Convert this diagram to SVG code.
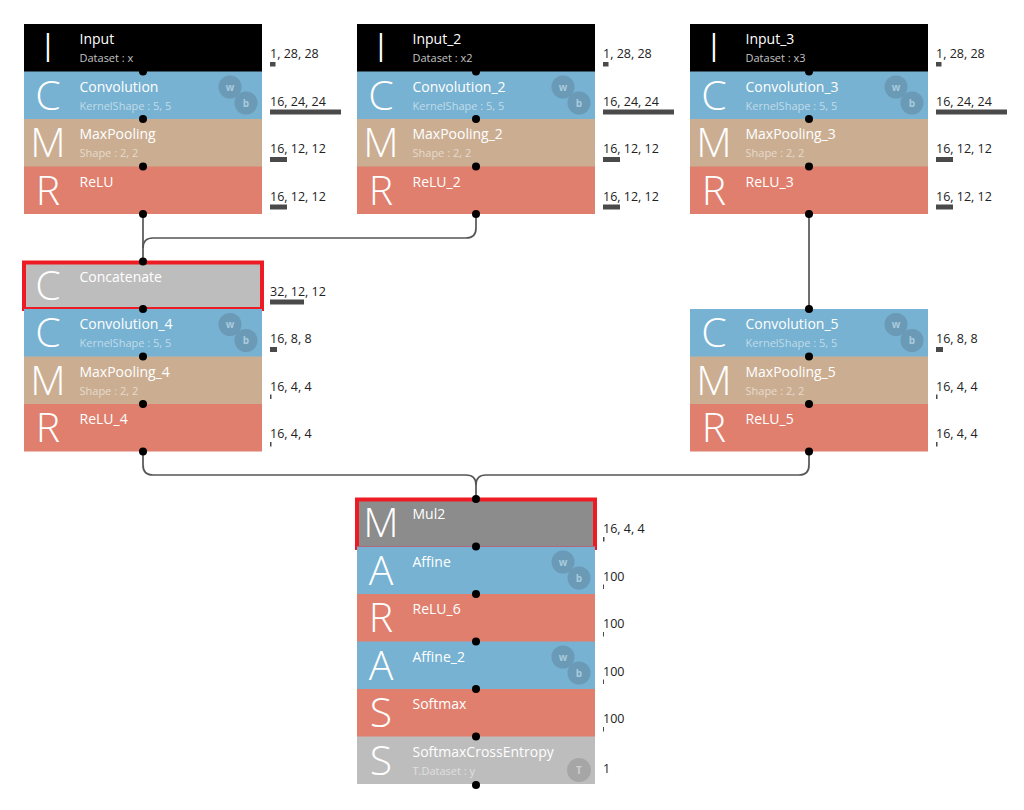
<svg xmlns="http://www.w3.org/2000/svg" width="1024" height="810" viewBox="0 0 1024 810">
<style>
.bgI{fill:#000000}.bgC{fill:#77B2D2}.bgM{fill:#CBAE92}.bgR{fill:#E07F6E}.bgG{fill:#BDBDBD}.bgD{fill:#8C8C8C}
.big{font-family:"Open Sans","DejaVu Sans",sans-serif;font-weight:300;font-size:41px;fill:#fff;text-anchor:middle}
.t{font-family:"Open Sans","DejaVu Sans",sans-serif;font-size:14px;fill:#fff}
.s{font-family:"Open Sans","DejaVu Sans",sans-serif;font-size:11px;fill:#fff;fill-opacity:0.55}
.sI{fill:#c4c4c4;fill-opacity:1}
.l{font-family:"Open Sans","DejaVu Sans",sans-serif;font-size:12.5px;fill:#222}
.bar{fill:#4a4a4a}
.cw{fill:#6A9AB6}.cwt{font-family:"Open Sans","DejaVu Sans",sans-serif;font-size:10px;font-weight:bold;fill:#A9CADD;text-anchor:middle}
.ct{fill:#A6A6A6}.ctt{font-family:"Open Sans","DejaVu Sans",sans-serif;font-size:10px;font-weight:bold;fill:#CFCFCF;text-anchor:middle}
.hl{fill:none;stroke:#ED1C24;stroke-width:4}
.dot{fill:#000}
.edge{fill:none;stroke:#555;stroke-width:1.7}
</style>
<defs>
<g id="wb"><circle class="cw" cx="206" cy="15.5" r="11.5"/><text class="cwt" x="206" y="19">w</text><circle class="cw" cx="222" cy="31.5" r="11.5"/><text class="cwt" x="222" y="35">b</text></g>
</defs>

<g id="connectors">
<path class="edge" d="M143,214 V261.5"/>
<path class="edge" d="M476,214 V228 Q476,238 466,238 H153 Q143,238 143,248"/>
<path class="edge" d="M809,214 V309"/>
<path class="edge" d="M143,451.5 V465 Q143,475 153,475 H466 Q476,475 476,485 V499"/>
<path class="edge" d="M809,451.5 V465 Q809,475 799,475 H486 Q476,475 476,485"/>
</g>

<!-- Column 1 -->
<g id="input" transform="translate(24,24)"><rect class="bgI" width="238" height="48"/><text class="big" x="24" y="38">I</text><text class="t" x="55.5" y="20">Input</text><text class="s sI" x="55.5" y="38">Dataset : x</text><text class="l" x="246" y="34">1, 28, 28</text><rect class="bar" x="246" y="38" width="5.5" height="4.5"/></g>
<g id="convolution" transform="translate(24,71.5)"><rect class="bgC" width="238" height="48"/><text class="big" x="24" y="38">C</text><text class="t" x="55.5" y="20">Convolution</text><text class="s" x="55.5" y="38">KernelShape : 5, 5</text><use href="#wb"/><text class="l" x="246" y="34">16, 24, 24</text><rect class="bar" x="246" y="38" width="71" height="5"/></g>
<g id="maxpooling" transform="translate(24,119)"><rect class="bgM" width="238" height="48"/><text class="big" x="24" y="38">M</text><text class="t" x="55.5" y="20">MaxPooling</text><text class="s" x="55.5" y="38">Shape : 2, 2</text><text class="l" x="246" y="34">16, 12, 12</text><rect class="bar" x="246" y="38" width="17" height="5"/></g>
<g id="relu" transform="translate(24,166.5)"><rect class="bgR" width="238" height="47.5"/><text class="big" x="24" y="38">R</text><text class="t" x="55.5" y="20">ReLU</text><text class="l" x="246" y="34">16, 12, 12</text><rect class="bar" x="246" y="38" width="17" height="5"/></g>

<g id="concatenate" transform="translate(24,261.5)"><rect class="bgG" width="238" height="48"/><text class="big" x="24" y="38">C</text><text class="t" x="55.5" y="20">Concatenate</text><text class="l" x="246" y="34">32, 12, 12</text><rect class="bar" x="246" y="38" width="34" height="5"/><rect class="hl" x="0" y="1" width="238" height="46.5"/></g>
<g id="convolution_4" transform="translate(24,309)"><rect class="bgC" width="238" height="48"/><text class="big" x="24" y="38">C</text><text class="t" x="55.5" y="20">Convolution_4</text><text class="s" x="55.5" y="38">KernelShape : 5, 5</text><use href="#wb"/><text class="l" x="246" y="34">16, 8, 8</text><rect class="bar" x="246" y="38" width="7" height="5"/></g>
<g id="maxpooling_4" transform="translate(24,356.5)"><rect class="bgM" width="238" height="48"/><text class="big" x="24" y="38">M</text><text class="t" x="55.5" y="20">MaxPooling_4</text><text class="s" x="55.5" y="38">Shape : 2, 2</text><text class="l" x="246" y="34">16, 4, 4</text><rect class="bar" x="246" y="38" width="1.5" height="4.5"/></g>
<g id="relu_4" transform="translate(24,404)"><rect class="bgR" width="238" height="47.5"/><text class="big" x="24" y="38">R</text><text class="t" x="55.5" y="20">ReLU_4</text><text class="l" x="246" y="34">16, 4, 4</text><rect class="bar" x="246" y="38" width="1.5" height="4.5"/></g>

<!-- Column 2 -->
<g id="input_2" transform="translate(357,24)"><rect class="bgI" width="238" height="48"/><text class="big" x="24" y="38">I</text><text class="t" x="55.5" y="20">Input_2</text><text class="s sI" x="55.5" y="38">Dataset : x2</text><text class="l" x="246" y="34">1, 28, 28</text><rect class="bar" x="246" y="38" width="5.5" height="4.5"/></g>
<g id="convolution_2" transform="translate(357,71.5)"><rect class="bgC" width="238" height="48"/><text class="big" x="24" y="38">C</text><text class="t" x="55.5" y="20">Convolution_2</text><text class="s" x="55.5" y="38">KernelShape : 5, 5</text><use href="#wb"/><text class="l" x="246" y="34">16, 24, 24</text><rect class="bar" x="246" y="38" width="71" height="5"/></g>
<g id="maxpooling_2" transform="translate(357,119)"><rect class="bgM" width="238" height="48"/><text class="big" x="24" y="38">M</text><text class="t" x="55.5" y="20">MaxPooling_2</text><text class="s" x="55.5" y="38">Shape : 2, 2</text><text class="l" x="246" y="34">16, 12, 12</text><rect class="bar" x="246" y="38" width="17" height="5"/></g>
<g id="relu_2" transform="translate(357,166.5)"><rect class="bgR" width="238" height="47.5"/><text class="big" x="24" y="38">R</text><text class="t" x="55.5" y="20">ReLU_2</text><text class="l" x="246" y="34">16, 12, 12</text><rect class="bar" x="246" y="38" width="17" height="5"/></g>

<g id="mul2" transform="translate(357,499)"><rect class="bgD" width="238" height="48"/><text class="big" x="24" y="38">M</text><text class="t" x="55.5" y="20">Mul2</text><text class="l" x="246" y="34">16, 4, 4</text><rect class="bar" x="246" y="38" width="1.5" height="4.5"/><rect class="hl" x="0" y="0.5" width="238" height="48.5"/></g>
<g id="affine" transform="translate(357,546.5)"><rect class="bgC" width="238" height="48"/><text class="big" x="24" y="38">A</text><text class="t" x="55.5" y="20">Affine</text><use href="#wb"/><text class="l" x="246" y="34">100</text><rect class="bar" x="246" y="38" width="1" height="4.5"/></g>
<g id="relu_6" transform="translate(357,594)"><rect class="bgR" width="238" height="48"/><text class="big" x="24" y="38">R</text><text class="t" x="55.5" y="20">ReLU_6</text><text class="l" x="246" y="34">100</text><rect class="bar" x="246" y="38" width="1" height="4.5"/></g>
<g id="affine_2" transform="translate(357,641.5)"><rect class="bgC" width="238" height="48"/><text class="big" x="24" y="38">A</text><text class="t" x="55.5" y="20">Affine_2</text><use href="#wb"/><text class="l" x="246" y="34">100</text><rect class="bar" x="246" y="38" width="1" height="4.5"/></g>
<g id="softmax" transform="translate(357,689)"><rect class="bgR" width="238" height="48"/><text class="big" x="24" y="38">S</text><text class="t" x="55.5" y="20">Softmax</text><text class="l" x="246" y="34">100</text><rect class="bar" x="246" y="38" width="1" height="4.5"/></g>
<g id="softmaxcrossentropy" transform="translate(357,736.5)"><rect class="bgG" width="238" height="47.5"/><text class="big" x="24" y="38">S</text><text class="t" x="55.5" y="20">SoftmaxCrossEntropy</text><text class="s" x="55.5" y="38">T.Dataset : y</text><circle class="ct" cx="222" cy="33.5" r="12"/><text class="ctt" x="222" y="37">T</text><text class="l" x="246" y="36">1</text></g>

<!-- Column 3 -->
<g id="input_3" transform="translate(690,24)"><rect class="bgI" width="238" height="48"/><text class="big" x="24" y="38">I</text><text class="t" x="55.5" y="20">Input_3</text><text class="s sI" x="55.5" y="38">Dataset : x3</text><text class="l" x="246" y="34">1, 28, 28</text><rect class="bar" x="246" y="38" width="5.5" height="4.5"/></g>
<g id="convolution_3" transform="translate(690,71.5)"><rect class="bgC" width="238" height="48"/><text class="big" x="24" y="38">C</text><text class="t" x="55.5" y="20">Convolution_3</text><text class="s" x="55.5" y="38">KernelShape : 5, 5</text><use href="#wb"/><text class="l" x="246" y="34">16, 24, 24</text><rect class="bar" x="246" y="38" width="71" height="5"/></g>
<g id="maxpooling_3" transform="translate(690,119)"><rect class="bgM" width="238" height="48"/><text class="big" x="24" y="38">M</text><text class="t" x="55.5" y="20">MaxPooling_3</text><text class="s" x="55.5" y="38">Shape : 2, 2</text><text class="l" x="246" y="34">16, 12, 12</text><rect class="bar" x="246" y="38" width="17" height="5"/></g>
<g id="relu_3" transform="translate(690,166.5)"><rect class="bgR" width="238" height="47.5"/><text class="big" x="24" y="38">R</text><text class="t" x="55.5" y="20">ReLU_3</text><text class="l" x="246" y="34">16, 12, 12</text><rect class="bar" x="246" y="38" width="17" height="5"/></g>

<g id="convolution_5" transform="translate(690,309)"><rect class="bgC" width="238" height="48"/><text class="big" x="24" y="38">C</text><text class="t" x="55.5" y="20">Convolution_5</text><text class="s" x="55.5" y="38">KernelShape : 5, 5</text><use href="#wb"/><text class="l" x="246" y="34">16, 8, 8</text><rect class="bar" x="246" y="38" width="7" height="5"/></g>
<g id="maxpooling_5" transform="translate(690,356.5)"><rect class="bgM" width="238" height="48"/><text class="big" x="24" y="38">M</text><text class="t" x="55.5" y="20">MaxPooling_5</text><text class="s" x="55.5" y="38">Shape : 2, 2</text><text class="l" x="246" y="34">16, 4, 4</text><rect class="bar" x="246" y="38" width="1.5" height="4.5"/></g>
<g id="relu_5" transform="translate(690,404)"><rect class="bgR" width="238" height="47.5"/><text class="big" x="24" y="38">R</text><text class="t" x="55.5" y="20">ReLU_5</text><text class="l" x="246" y="34">16, 4, 4</text><rect class="bar" x="246" y="38" width="1.5" height="4.5"/></g>

<g id="ports">
<circle class="dot" cx="143" cy="71.5" r="4"/><circle class="dot" cx="143" cy="119" r="4"/><circle class="dot" cx="143" cy="166.5" r="4"/><circle class="dot" cx="143" cy="214" r="4"/>
<circle class="dot" cx="476" cy="71.5" r="4"/><circle class="dot" cx="476" cy="119" r="4"/><circle class="dot" cx="476" cy="166.5" r="4"/><circle class="dot" cx="476" cy="214" r="4"/>
<circle class="dot" cx="809" cy="71.5" r="4"/><circle class="dot" cx="809" cy="119" r="4"/><circle class="dot" cx="809" cy="166.5" r="4"/><circle class="dot" cx="809" cy="214" r="4"/>
<circle class="dot" cx="143" cy="261.5" r="4"/><circle class="dot" cx="143" cy="309" r="4"/><circle class="dot" cx="143" cy="356.5" r="4"/><circle class="dot" cx="143" cy="404" r="4"/><circle class="dot" cx="143" cy="451.5" r="4"/>
<circle class="dot" cx="809" cy="309" r="4"/><circle class="dot" cx="809" cy="356.5" r="4"/><circle class="dot" cx="809" cy="404" r="4"/><circle class="dot" cx="809" cy="451.5" r="4"/>
<circle class="dot" cx="476" cy="499" r="4"/><circle class="dot" cx="476" cy="546.5" r="4"/><circle class="dot" cx="476" cy="594" r="4"/><circle class="dot" cx="476" cy="641.5" r="4"/><circle class="dot" cx="476" cy="689" r="4"/><circle class="dot" cx="476" cy="736.5" r="4"/><circle class="dot" cx="476" cy="785" r="4"/>
</g>
</svg>
